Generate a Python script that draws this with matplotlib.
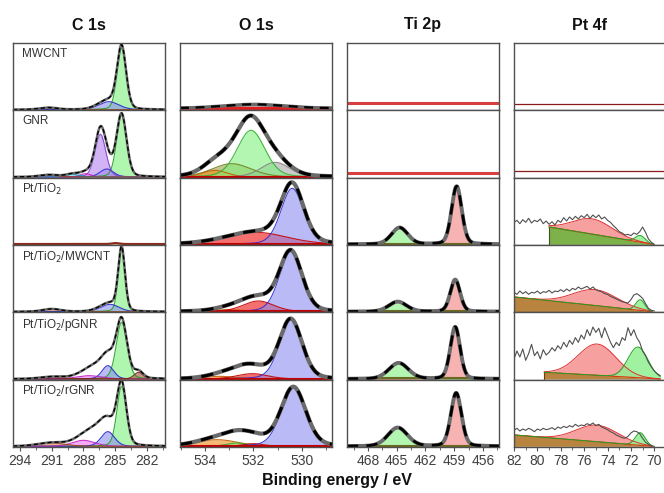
import numpy as np
import matplotlib
matplotlib.use("Agg")
import matplotlib.pyplot as plt

plt.rcParams['font.family'] = ['Liberation Sans', 'DejaVu Sans']

# ---------------- data ----------------
samples = ["MWCNT", "GNR", "Pt/TiO$_2$", "Pt/TiO$_2$/MWCNT", "Pt/TiO$_2$/pGNR", "Pt/TiO$_2$/rGNR"]
regions = ["C 1s", "O 1s", "Ti 2p", "Pt 4f"]
xlims = {"C 1s": (294.66, 280.3), "O 1s": (535.03, 528.76),
         "Ti 2p": (470.19, 454.33), "Pt 4f": (82.0, 69.0)}
tick_major = {"C 1s": [294, 291, 288, 285, 282], "O 1s": [534, 532, 530],
              "Ti 2p": [468, 465, 462, 459, 456], "Pt 4f": [82, 80, 78, 76, 74, 72, 70]}

# C 1s components: center / height / fwhm per sample
c1s_center = {"sp2": [284.4, 284.4, 284.4, 284.4, 284.4, 284.4],
              "sp3": [285.6, 285.8, 285.5, 285.5, 285.7, 285.7],
              "C-O": [286.4, 286.4, 286.4, 286.4, 286.4, 286.4],
              "C=O": [287.8, 287.8, 287.8, 287.8, 287.5, 288.0],
              "O-C=O": [289.0, 289.0, 289.0, 289.0, 289.0, 289.0],
              "pi": [291.3, 291.3, 285.0, 291.0, 291.0, 291.0],
              "carbide": [282.8, 282.8, 282.8, 282.8, 282.8, 282.8],
              "tail": [286.2, 286.2, 286.2, 286.2, 286.4, 286.5]}
c1s_height = {"sp2": [0.92, 0.93, 0.0, 0.93, 0.85, 0.90],
              "sp3": [0.12, 0.12, 0.0, 0.11, 0.20, 0.22],
              "C-O": [0.0, 0.64, 0.0, 0.0, 0.0, 0.0],
              "C=O": [0.0, 0.05, 0.0, 0.0, 0.05, 0.09],
              "O-C=O": [0.0, 0.04, 0.0, 0.0, 0.0, 0.0],
              "pi": [0.03, 0.03, 0.015, 0.04, 0.03, 0.05],
              "carbide": [0.0, 0.0, 0.0, 0.0, 0.10, 0.0],
              "tail": [0.02, 0.03, 0.0, 0.02, 0.18, 0.24]}
c1s_fwhm = {"sp2": [1.0, 1.1, 1.0, 0.75, 1.2, 1.05],
            "sp3": [2.2, 1.5, 1.0, 2.0, 1.3, 1.5],
            "C-O": [1.2, 1.2, 1.2, 1.2, 1.2, 1.2],
            "C=O": [1.5, 1.2, 1.5, 1.5, 2.8, 2.5],
            "O-C=O": [1.5, 1.5, 1.5, 1.5, 1.5, 1.5],
            "pi": [2.0, 2.0, 0.8, 2.0, 2.5, 3.0],
            "carbide": [1.0, 1.0, 1.0, 1.0, 1.0, 1.0],
            "tail": [2.0, 2.0, 2.0, 2.0, 3.0, 2.8]}

# O 1s components
o1s_center = {"O-Ti": [530.4, 530.4, 530.4, 530.46, 530.46, 530.35],
              "OH": [532.0, 532.0, 531.9, 531.8, 532.05, 532.0],
              "C=O": [532.1, 532.1, 532.7, 532.7, 532.7, 532.7],
              "C-O": [533.6, 533.6, 533.2, 533.1, 533.4, 533.5],
              "olive": [532.9, 532.9, 532.9, 532.9, 532.9, 532.9],
              "gray": [532.0, 531.1, 531.1, 531.1, 531.1, 531.1],
              "extra": [532.3, 532.3, 532.3, 532.3, 532.3, 532.3]}
o1s_height = {"O-Ti": [0.0, 0.0, 0.84, 0.90, 0.89, 0.88],
              "OH": [0.0, 0.0, 0.18, 0.16, 0.08, 0.04],
              "C=O": [0.0, 0.70, 0.0, 0.0, 0.0, 0.05],
              "C-O": [0.0, 0.10, 0.0, 0.03, 0.04, 0.10],
              "olive": [0.0, 0.20, 0.0, 0.0, 0.0, 0.0],
              "gray": [0.06, 0.22, 0.0, 0.0, 0.0, 0.0],
              "extra": [0.0, 0.04, 0.0, 0.06, 0.13, 0.12]}
o1s_fwhm = {"O-Ti": [1.1, 1.1, 1.1, 1.1, 1.1, 1.2],
            "OH": [1.5, 1.5, 3.0, 1.5, 1.5, 1.0],
            "C=O": [1.0, 1.35, 1.0, 1.0, 1.0, 1.0],
            "C-O": [1.2, 1.2, 1.5, 1.5, 1.5, 2.0],
            "olive": [1.9, 1.9, 1.9, 1.9, 1.9, 1.9],
            "gray": [3.0, 1.4, 1.4, 1.4, 1.4, 1.4],
            "extra": [1.8, 2.2, 1.8, 1.8, 1.8, 2.0]}

# Ti 2p components
ti_center = {"2p3/2": [458.8, 458.8, 458.75, 458.9, 458.9, 458.8],
             "2p1/2": [464.8, 464.8, 464.7, 464.9, 464.8, 464.9]}
ti_height = {"2p3/2": [0.0, 0.0, 0.87, 0.48, 0.78, 0.80],
             "2p1/2": [0.0, 0.0, 0.25, 0.15, 0.24, 0.28]}
ti_fwhm = {"2p3/2": [1.2, 1.2, 1.25, 1.2, 1.2, 1.3],
           "2p1/2": [2.0, 2.0, 2.0, 2.2, 2.4, 2.4]}
ti_flat = [0.10, 0.06, 0.0, 0.0, 0.0, 0.0]

# Pt 4f: linear background, two components, raw spectra
pt_flat = [0.09, 0.09, 0.0, 0.0, 0.0, 0.0]
pt_bg_left_e = [82.0, 82.0, 79.0, 82.0, 79.4, 82.0]
pt_bg_left_h = [0.0, 0.0, 0.26, 0.22, 0.10, 0.17]
pt_bg_right_e = [70.0, 70.0, 70.1, 70.2, 69.5, 70.2]
pt_red_center = [75.0, 75.0, 75.3, 75.05, 74.9, 74.9]
pt_red_height = [0.0, 0.0, 0.23, 0.24, 0.47, 0.25]
pt_red_fwhm = [3.5, 3.5, 4.0, 4.4, 3.8, 4.2]
pt_green_center = [71.2, 71.2, 71.2, 71.2, 71.4, 71.2]
pt_green_height = [0.0, 0.0, 0.10, 0.16, 0.46, 0.19]
pt_green_fwhm = [1.0, 1.0, 1.0, 0.9, 2.0, 1.0]

pt_raw_tio2 = [0.33, 0.36, 0.31, 0.37, 0.33, 0.39, 0.32, 0.36, 0.34, 0.38, 0.31, 0.35, 0.30,
               0.34, 0.29, 0.36, 0.33, 0.40, 0.35, 0.41, 0.37, 0.42, 0.38, 0.43, 0.40, 0.45,
               0.39, 0.44, 0.40, 0.44, 0.38, 0.41, 0.36, 0.33, 0.28, 0.24, 0.19, 0.17, 0.14,
               0.15, 0.13, 0.17, 0.15, 0.19, 0.26, 0.18, 0.08, 0.03, 0.0]
pt_raw_mwcnt = [0.29, 0.26, 0.31, 0.27, 0.30, 0.26, 0.29, 0.28, 0.31, 0.27, 0.30, 0.29, 0.32,
                0.28, 0.31, 0.30, 0.33, 0.30, 0.34, 0.31, 0.35, 0.33, 0.37, 0.34, 0.36, 0.38,
                0.34, 0.37, 0.33, 0.31, 0.30, 0.27, 0.26, 0.23, 0.21, 0.19, 0.17, 0.15, 0.14,
                0.13, 0.18, 0.25, 0.27, 0.24, 0.20, 0.12, 0.05, 0.02, 0.01]
pt_raw_pgnr = [0.30, 0.42, 0.33, 0.45, 0.28, 0.38, 0.52, 0.35, 0.41, 0.30, 0.44, 0.36, 0.40,
               0.47, 0.42, 0.50, 0.45, 0.55, 0.48, 0.58, 0.52, 0.62, 0.55, 0.66, 0.60, 0.74,
               0.65, 0.78, 0.70, 0.76, 0.62, 0.77, 0.66, 0.55, 0.47, 0.55, 0.50, 0.62, 0.58,
               0.77, 0.65, 0.74, 0.62, 0.55, 0.42, 0.35, 0.25, 0.18, 0.12, 0.08, 0.05]
pt_raw_rgnr = [0.24, 0.27, 0.23, 0.26, 0.24, 0.27, 0.25, 0.22, 0.26, 0.24, 0.27, 0.25, 0.26,
               0.28, 0.25, 0.29, 0.27, 0.30, 0.28, 0.31, 0.29, 0.33, 0.30, 0.32, 0.31, 0.34,
               0.32, 0.35, 0.31, 0.33, 0.29, 0.27, 0.25, 0.22, 0.20, 0.17, 0.15, 0.13, 0.12,
               0.15, 0.20, 0.23, 0.22, 0.19, 0.12, 0.06, 0.03, 0.01, 0.0]
pt_raw = [None, None, pt_raw_tio2, pt_raw_mwcnt, pt_raw_pgnr, pt_raw_rgnr]
pt_raw_end = [70.0, 70.0, 70.0, 70.0, 69.5, 70.0]

# ---------------- styles ----------------
c1s_style = {"sp2": ("#7CF07C", "#20A020"), "sp3": ("#8C8CF0", "#2828C8"),
             "C-O": ("#B482F0", "#8040D0"), "C=O": ("#F070F0", "#C020C0"),
             "O-C=O": ("#50E0E8", "#10A0B0"), "pi": ("#E8803A", "#A04010"),
             "carbide": ("#A04A3A", "#702010"), "tail": (None, None)}
o1s_style = {"olive": ("#9AA040", "#708020"), "C-O": ("#F08C1C", "#C06000"),
             "gray": ("#A8A8A8", "#808080"), "C=O": ("#80F080", "#30B030"),
             "OH": ("#F01010", "#C00000"), "O-Ti": ("#8C8CF0", "#3030D0"),
             "extra": (None, None)}
ti_style = {"2p1/2": ("#80F080", "#20A020"), "2p3/2": ("#F28080", "#C01010")}

W, H = 664, 493
col_left = [13, 180, 347, 514]
col_width = 152
row_top0 = 43
row_h = (447 - 43) / 6


def pv(x, c, h, w, eta=0.2):
    s = w / 2.3548
    g = np.exp(-0.5 * ((x - c) / s) ** 2)
    lor = 1.0 / (1.0 + ((x - c) / (w / 2)) ** 2)
    return h * ((1 - eta) * g + eta * lor)


def draw_components(ax, x, centers, heights, fwhms, styles, row):
    total = np.zeros_like(x)
    for name in styles:
        h = heights[name][row]
        if h <= 0:
            continue
        y = pv(x, centers[name][row], h, fwhms[name][row])
        total += y
        fc, ec = styles[name]
        if fc is not None:
            ax.fill_between(x, 0, y, color=fc, alpha=0.6, lw=0)
            ax.plot(x, y, color=ec, lw=0.8, alpha=0.9)
    return total


def envelope(ax, x, total, lw, dash):
    ax.plot(x, total, color="#6a6a6a", lw=lw + 0.8, solid_capstyle="round")
    ax.plot(x, total, color="black", lw=lw, ls=(0, dash))


fig = plt.figure(figsize=(W / 100, H / 100), dpi=100)

for col, region in enumerate(regions):
    xl = xlims[region]
    x = np.linspace(xl[0], xl[1], 900)
    for row in range(6):
        top = row_top0 + row * row_h
        ax = fig.add_axes([col_left[col] / W, 1 - (top + row_h) / H, col_width / W, row_h / H])
        ax.set_xlim(xl)
        ax.set_ylim(-0.01, 1.0)
        ax.set_yticks([])
        for sp in ax.spines.values():
            sp.set_color("#505050")
            sp.set_linewidth(1.0)

        if region == "C 1s":
            total = draw_components(ax, x, c1s_center, c1s_height, c1s_fwhm, c1s_style, row)
            if row == 2:
                ax.plot(x, total + 0.005, color="#8B2A1A", lw=1.5)
            else:
                envelope(ax, x, total, 1.0, (3, 2))
            ax.text(0.06, 0.93, samples[row], transform=ax.transAxes, va="top", ha="left",
                    fontsize=8.5, color="#333333")
        elif region == "O 1s":
            total = draw_components(ax, x, o1s_center, o1s_height, o1s_fwhm, o1s_style, row)
            if row == 0:
                ax.plot(x, np.full_like(x, 0.02), color="#E02020", lw=2.5)
                envelope(ax, x, total + 0.02, 1.6, (4, 3))
            else:
                ax.plot(x, np.full_like(x, 0.005), color="#C00000", lw=1.5)
                envelope(ax, x, total, 2.2, (4, 3))
        elif region == "Ti 2p":
            if ti_flat[row] > 0:
                ax.plot(x, np.full_like(x, ti_flat[row]), color="#D84040", lw=2.2)
            else:
                total = draw_components(ax, x, ti_center, ti_height, ti_fwhm, ti_style, row)
                ax.plot(x, np.full_like(x, 0.01), color="#6A6A20", lw=1.5)
                envelope(ax, x, total, 2.0, (4, 3))
        else:
            if pt_flat[row] > 0:
                ax.plot(x, np.full_like(x, pt_flat[row]), color="#8B1A1A", lw=0.9)
            else:
                xe = np.linspace(pt_bg_left_e[row], pt_bg_right_e[row], 400)
                bg = pt_bg_left_h[row] * (xe - pt_bg_right_e[row]) / (pt_bg_left_e[row] - pt_bg_right_e[row])
                red = pv(xe, pt_red_center[row], pt_red_height[row], pt_red_fwhm[row], 0.0)
                grn = pv(xe, pt_green_center[row], pt_green_height[row], pt_green_fwhm[row], 0.0)
                bgc = "#7DB24A" if row == 2 else "#B8843F"
                ax.fill_between(xe, 0, bg, color=bgc, lw=0)
                ax.plot([pt_bg_left_e[row], pt_bg_left_e[row]], [0, pt_bg_left_h[row]],
                        color="#405020" if row == 2 else "#6A4010", lw=0.8)
                ax.fill_between(xe, bg, bg + red, color="#F59090", alpha=0.85, lw=0)
                ax.fill_between(xe, bg, bg + grn, color="#90F090", alpha=0.85, lw=0)
                ax.plot(xe, bg, color="#D04010", lw=0.9)
                ax.plot(xe, bg + red, color="#E03030", lw=0.7)
                ax.plot(xe, bg + grn, color="#20A020", lw=0.7)
                raw = pt_raw[row]
                xr = np.linspace(82.0, pt_raw_end[row], len(raw))
                ax.plot(xr, raw, color="#505050", lw=0.8)

        if row == 5:
            ax.set_xticks(tick_major[region])
            mt = tick_major[region]
            step = mt[1] - mt[0]
            minors = [m + step / 2 for m in mt] + [mt[0] - step / 2]
            ax.set_xticks(minors, minor=True)
            ax.tick_params(axis="x", which="major", direction="out", length=3, width=0.8,
                           color="#505050", labelsize=10, labelcolor="#404040", pad=2)
            ax.tick_params(axis="x", which="minor", direction="out", length=2, width=0.6, color="#505050")
            ax.set_xlim(xl)
        else:
            ax.tick_params(axis="x", which="both", bottom=False, labelbottom=False)

    fig.text((col_left[col] + col_width / 2) / W, 1 - 25 / H, region, ha="center", va="center",
             fontsize=11.5, fontweight="bold", color="#111111")

fig.text(337 / W, 1 - 481 / H, "Binding energy / eV", ha="center", va="center",
         fontsize=11.5, fontweight="bold", color="#111111")

fig.savefig("out.png", dpi=100)
